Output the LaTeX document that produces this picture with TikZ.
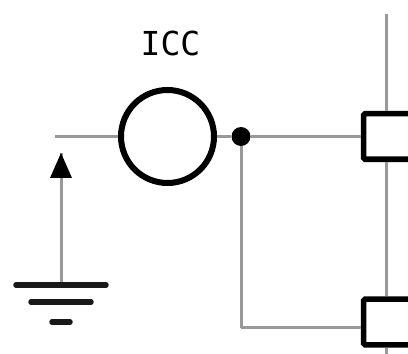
\documentclass[tikz,border=0pt]{standalone}
\usepackage{fontspec}
\setmonofont{DejaVu Sans Mono}
\usetikzlibrary{arrows.meta,positioning,calc}
\tikzset{>=latex}

\begin{document}
\begin{tikzpicture}
	[x=1bp, y=1bp, inner sep=0pt,
	source/.style={circle, draw, line width=6bp, minimum size=93bp},
	terminal/.style={rectangle, draw, line width=5.5bp, rounded corners=1.5bp, minimum width=49bp, minimum height=45.5bp},
	junction/.style={circle, fill, minimum size=19bp},
	wire/.style={draw=black!40, line width=3bp},
	earth/.style={draw=black!90, line width=5.5bp, line cap=round}]

	\useasboundingbox (0,0) rectangle (408,354);
	\clip (0,0) rectangle (408,354);

	\node[source]   (icc)        at (167.5,217.5) {};
	\node[font=\ttfamily\fontsize{33bp}{36bp}\selectfont] (icc_label) [above=of icc, yshift=2bp, xshift=3bp] {ICC};
	\node[junction] (dot)        at (241,217.5) {};
	\node[terminal] (box_top)    at (388,217.5) {};
	\node[terminal] (box_bottom) at (388,32)    {};

	\coordinate (wire_in)     at (55,217.5);
	\coordinate (rail_top)    at (386.5,340);
	\coordinate (rail_bottom) at (386.5,0);
	\coordinate (corner)      at (241,26);

	\coordinate (arrow_tip)   at (61,201);
	\coordinate (earth_one)   at (61,69);
	\coordinate (earth_two)   at (61,52);
	\coordinate (earth_three) at (61,32);

	\draw [wire] (wire_in) to (icc);
	\draw [wire] (icc)     to (dot);
	\draw [wire] (dot)     to (box_top);
	\draw [wire] (dot)     to (corner);
	\draw [wire] (corner)  to (corner -| box_bottom.west);
	\draw [wire] (rail_top) to (rail_top |- box_top.north);
	\draw [wire] (rail_top |- box_top.south) to (rail_top |- box_bottom.north);
	\draw [wire] (rail_top |- box_bottom.south) to (rail_bottom);
	\draw [wire] (earth_one) to (arrow_tip);
	\fill (arrow_tip) -- ++(-11,-25) -- ++(22,0) -- cycle;

	\draw [earth] ($(earth_one)+(-45,0)$)   to ($(earth_one)+(45,0)$);
	\draw [earth] ($(earth_two)+(-30,0)$)   to ($(earth_two)+(30,0)$);
	\draw [earth] ($(earth_three)+(-9,0)$)  to ($(earth_three)+(9,0)$);
\end{tikzpicture}
\end{document}
